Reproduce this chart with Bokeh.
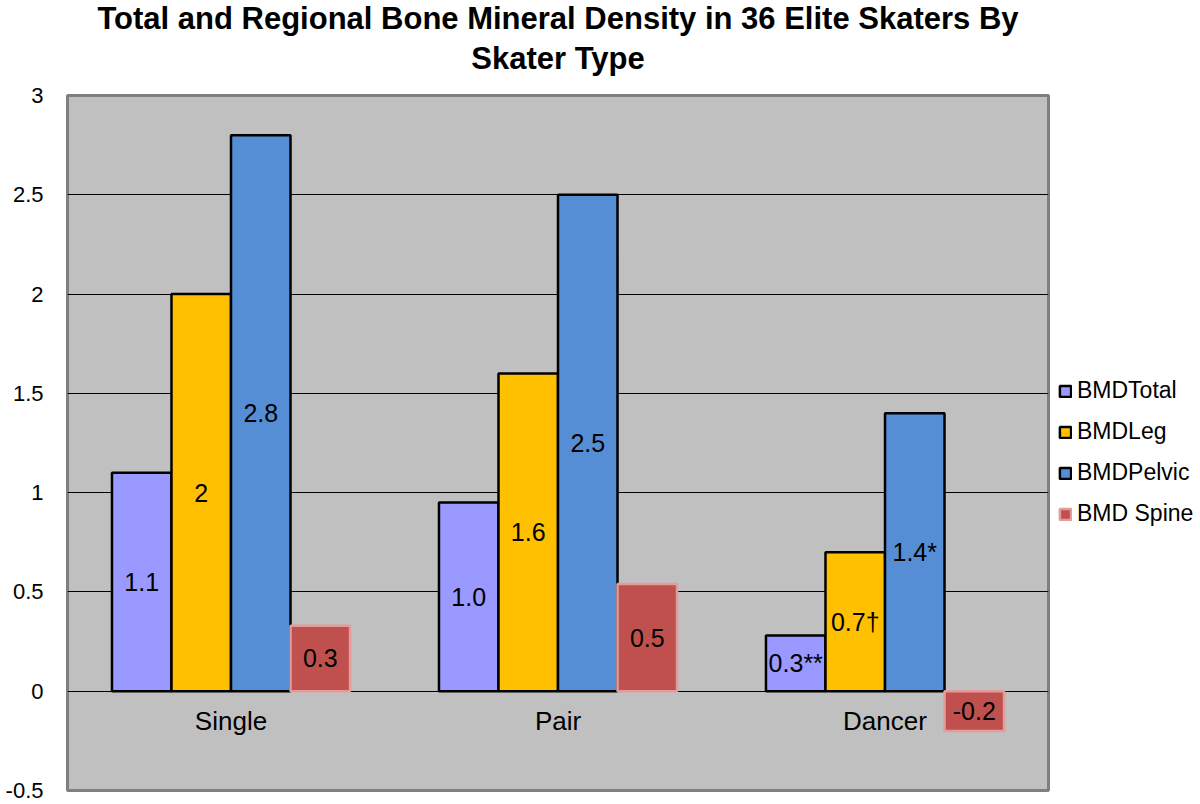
from bokeh.plotting import figure
from bokeh.models import (FactorRange, Range1d, FixedTicker, NumeralTickFormatter,
                          Legend, LegendItem, ColumnDataSource, Title)
from bokeh.transform import dodge
from bokeh.core.properties import value
from bokeh.embed import file_html
from bokeh.resources import INLINE

# ---- data ----
categories = ["Single", "Pair", "Dancer"]
series_names = ["BMDTotal", "BMDLeg", "BMDPelvic", "BMD Spine"]
bmd_total = [1.10, 0.95, 0.28]
bmd_leg = [2.0, 1.6, 0.70]
bmd_pelvic = [2.8, 2.5, 1.4]
bmd_spine = [0.33, 0.54, -0.20]
labels_total = ["1.1", "1.0", "0.3**"]
labels_leg = ["2", "1.6", "0.7\u2020"]
labels_pelvic = ["2.8", "2.5", "1.4*"]
labels_spine = ["0.3", "0.5", "-0.2"]
y_ticks = [-0.5, 0, 0.5, 1, 1.5, 2, 2.5, 3]

title_lines = ["Total and Regional Bone Mineral Density in 36 Elite Skaters By",
               "Skater Type"]

# ---- style ----
fill_colors = ["#9999FF", "#FFC000", "#558ED5", "#C0504D"]
line_colors = ["black", "black", "black", "#E29C9A"]
line_widths = [2.5, 2.5, 2.5, 2.5]
bar_w = 0.182
offsets = [-1.5 * bar_w, -0.5 * bar_w, 0.5 * bar_w, 1.5 * bar_w]
FONT = "Liberation Sans"

p = figure(x_range=FactorRange(factors=categories), y_range=Range1d(-0.5, 3),
           frame_width=981, frame_height=695,
           min_border_left=67, min_border_right=150, min_border_top=95, min_border_bottom=14,
           output_backend="svg", toolbar_location=None)

# title: first line outermost (p.title), second line nearest the frame
p.title.text = title_lines[0]
p.title.align = "center"
p.title.text_font = FONT
p.title.text_font_style = "bold"
p.title.text_font_size = "31px"
p.title.standoff = -35
p.title.text_color = "black"
p.add_layout(Title(text=title_lines[1], align="center", text_font=FONT,
                   text_font_style="bold", text_font_size="31px",
                   text_color="black", standoff=40), "above")

p.background_fill_color = "#C0C0C0"
p.border_fill_color = "white"
p.outline_line_color = "#7F7F7F"
p.outline_line_width = 3

# grid
p.xgrid.visible = False
p.ygrid.ticker = FixedTicker(ticks=y_ticks)
p.ygrid.grid_line_color = "black"
p.ygrid.grid_line_width = 1.2

# y axis
p.yaxis.ticker = FixedTicker(ticks=y_ticks)
p.yaxis.formatter = NumeralTickFormatter(format="0.[0]")
p.yaxis.axis_line_color = None
p.yaxis.major_tick_line_color = None
p.yaxis.minor_tick_line_color = None
p.yaxis.major_label_standoff = 18
p.yaxis.major_label_text_font = FONT
p.yaxis.major_label_text_font_size = "22px"
p.yaxis.major_label_text_color = "black"

# x axis at zero
p.xaxis.fixed_location = 0
p.xaxis.axis_line_color = None
p.xaxis.major_tick_line_color = None
p.xaxis.minor_tick_line_color = None
p.xaxis.major_label_standoff = 9
p.xaxis.major_label_text_font = FONT
p.xaxis.major_label_text_font_size = "26px"
p.xaxis.major_label_text_color = "black"

series_vals = [bmd_total, bmd_leg, bmd_pelvic, bmd_spine]
series_labels = [labels_total, labels_leg, labels_pelvic, labels_spine]

items = []
for i, name in enumerate(series_names):
    vals = series_vals[i]
    src = ColumnDataSource(dict(cat=categories, top=vals,
                                mid=[v / 2 for v in vals], lab=series_labels[i]))
    r = p.vbar(x=dodge("cat", offsets[i], range=p.x_range), top="top", bottom=0,
               width=bar_w, source=src, fill_color=fill_colors[i],
               line_color=line_colors[i], line_width=line_widths[i])
    p.text(x=dodge("cat", offsets[i], range=p.x_range), y="mid", text="lab", source=src,
           text_align="center", text_baseline="middle", text_font=value(FONT),
           text_font_size="25px", text_color="black")
    items.append(LegendItem(label=name, renderers=[r]))

legend = Legend(items=items, location=(10, 263), orientation="vertical",
                glyph_width=14, glyph_height=14, label_standoff=5,
                label_height=26, spacing=14, padding=0, margin=0,
                border_line_color=None, background_fill_alpha=0,
                label_text_font=FONT, label_text_font_size="23px",
                label_text_color="black")
p.add_layout(legend, "right")

open("out.html", "w").write(file_html(p, INLINE))
